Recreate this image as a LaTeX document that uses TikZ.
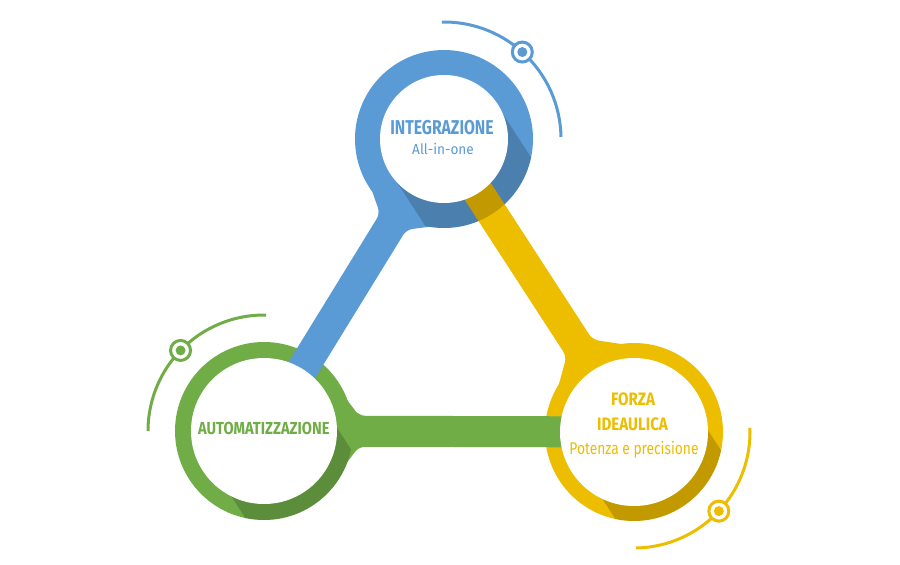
\documentclass[tikz,border=0pt]{standalone}
\usepackage{fontspec}
\setmainfont{Fira Sans}
\newfontfamily\fA[FakeStretch=0.785]{Fira Sans}
\newfontfamily\fB[FakeStretch=0.842]{Fira Sans}
\newfontfamily\fC[FakeStretch=0.935]{Fira Sans}
\newfontfamily\fD[FakeStretch=0.81]{Fira Sans}
\usetikzlibrary{calc}
\definecolor{cblue}{HTML}{5B9BD5}
\definecolor{cgreen}{HTML}{70AD47}
\definecolor{cyellow}{HTML}{EDBD00}
\tikzset{
  ring/.style={fill=#1},
  inner/.style={fill=white},
  barshape/.style={fill=#1,rounded corners=6pt},
  shade/.style={fill=black,fill opacity=0.18},
  deco/.style={draw=#1,line width=3pt},
  target/.style={draw=#1,fill=white,line width=3pt},
  lbl/.style={anchor=base,text=#1},
}
\begin{document}
\begin{tikzpicture}[x=1pt,y=1pt]
\useasboundingbox (0,-565) rectangle (900,0);
\coordinate (B) at (444,-139);
\coordinate (G) at (264,-431);
\coordinate (Y) at (634,-432);
% outer disks
\fill[ring=cblue] (B) circle[radius=89];
\fill[ring=cgreen] (G) circle[radius=89];
\fill[ring=cyellow] (Y) circle[radius=89];
% bars with collars
\begin{scope}[shift={(B)},rotate=238.4]
  \fill[barshape=cblue] (65,55) -- (97,15.5) -- (342.9,15.5) -- (342.9,-15.5) -- (97,-15.5) -- (65,-55) -- cycle;
\end{scope}
\begin{scope}[shift={(G)},rotate=-0.15]
  \fill[barshape=cgreen] (65,55) -- (95,15.5) -- (370,15.5) -- (370,-15.5) -- (95,-15.5) -- (65,-55) -- cycle;
\end{scope}
\begin{scope}[shift={(Y)},rotate=123.0]
  \fill[barshape=cyellow] (65,55) -- (100,15.5) -- (349.2,15.5) -- (349.2,-15.5) -- (100,-15.5) -- (65,-55) -- cycle;
\end{scope}
% shadows
\foreach \c in {B,G,Y}{
  \begin{scope}
    \clip (\c) circle[radius=89];
    \fill[shade,shift={(\c)}] (33:63) -- ++(-57:220) -- ++(-147:126) -- ++(123:220) -- cycle;
  \end{scope}
}
% inner circles
\fill[inner] (B) circle[radius=64];
\fill[inner] (G) circle[radius=73];
\fill[inner] (Y) circle[radius=74];
% texts
\node[lbl=cblue,font=\fA\bfseries\fontsize{20}{24}\selectfont] (t1) at (442,-134) {INTEGRAZIONE};
\node[lbl=cblue,font=\fC\fontsize{14.5}{17}\selectfont] (t2) at (443,-154) {All-in-one};
\node[lbl=cgreen,font=\fB\bfseries\fontsize{17.4}{21}\selectfont] (t3) at (263.8,-434) {AUTOMATIZZAZIONE};
\node[lbl=cyellow,font=\fB\bfseries\fontsize{18}{22}\selectfont] (t4) at (633,-405.7) {FORZA};
\node[lbl=cyellow,font=\fB\bfseries\fontsize{18}{22}\selectfont] (t5) at (632.5,-430) {IDEAULICA};
\node[lbl=cyellow,font=\fD\fontsize{17}{20}\selectfont] (t6) at (634,-454) {Potenza e precisione};
% decorative arcs
\draw[deco=cblue] ($(B)+(1:117)$) arc[start angle=1,end angle=91,radius=117];
\filldraw[target=cblue] ($(B)+(48:117)$) circle[radius=10];
\fill[cblue] ($(B)+(48:117)$) circle[radius=5];
\draw[deco=cgreen] ($(G)+(89:116)$) arc[start angle=89,end angle=180,radius=116];
\filldraw[target=cgreen] ($(G)+(136:116)$) circle[radius=10];
\fill[cgreen] ($(G)+(136:116)$) circle[radius=5];
\draw[deco=cyellow] ($(Y)+(2:116)$) arc[start angle=2,end angle=-89,radius=116];
\filldraw[target=cyellow] ($(Y)+(-43:116)$) circle[radius=10];
\fill[cyellow] ($(Y)+(-43:116)$) circle[radius=5];
\end{tikzpicture}
\end{document}
